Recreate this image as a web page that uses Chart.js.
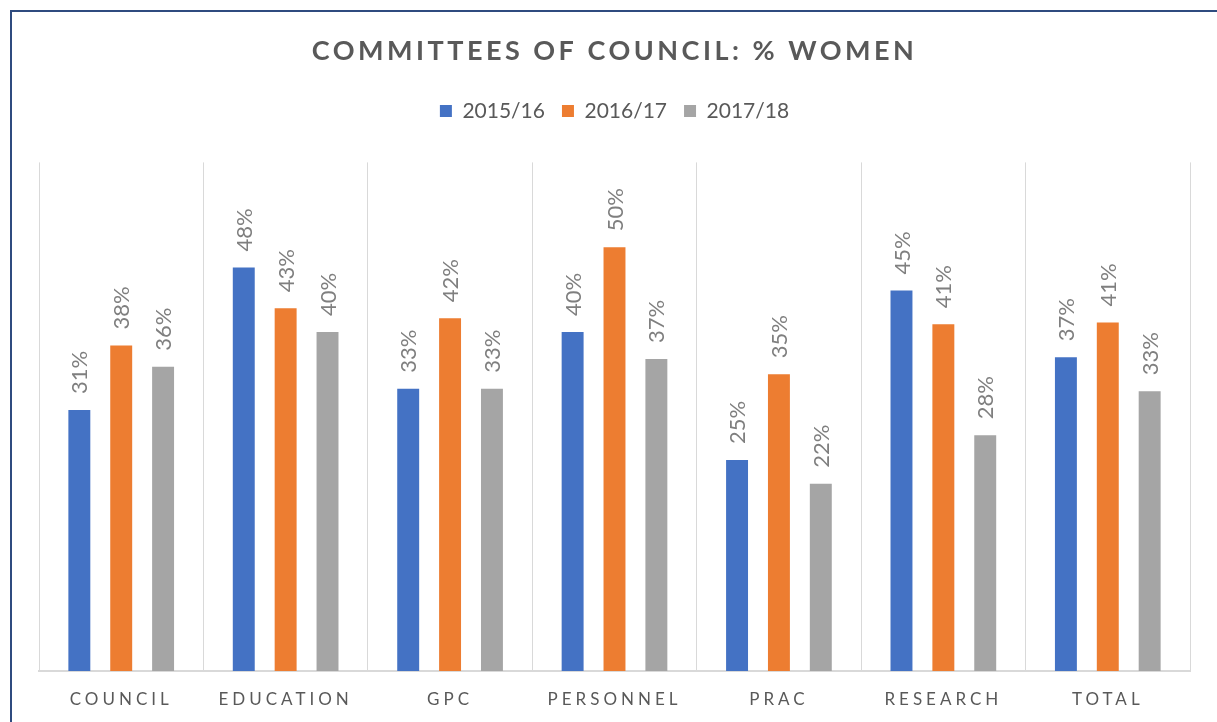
<!DOCTYPE html>
<html>
<head>
<meta charset="utf-8">
<script src="https://cdn.jsdelivr.net/npm/chart.js@4"></script>
<style>
  html, body { margin: 0; padding: 0; background: #fff; }
  #wrap { width: 1217px; height: 722px; }
</style>
</head>
<body>
<div id="wrap"><canvas id="myChart"></canvas></div>
<script>
const categories = ["COUNCIL", "EDUCATION", "GPC", "PERSONNEL", "PRAC", "RESEARCH", "TOTAL"];
const seriesNames = ["2015/16", "2016/17", "2017/18"];
const women1516 = [30.8, 47.6, 33.3, 40.0, 24.9, 44.9, 37.0];
const women1617 = [38.4, 42.8, 41.6, 50.0, 35.0, 40.9, 41.1];
const women1718 = [35.9, 40.0, 33.3, 36.8, 22.1, 27.8, 33.0];

const FONT = "Lato, 'Open Sans', sans-serif";

// spaced letters for title and category labels
const letterSpacing = {
  id: "letterSpacing",
  afterLayout(chart) {
    const xs = chart.scales.x;
    if (xs && !xs._spaced) {
      const orig = xs.drawLabels;
      xs.drawLabels = function (a) {
        const c = this.ctx;
        c.save();
        c.letterSpacing = "4px";
        orig.call(this, a);
        c.restore();
      };
      xs._spaced = true;
    }
    const tb = chart.titleBlock;
    if (tb && !tb._spaced) {
      const origT = tb.draw;
      tb.draw = function () {
        const c = this.ctx;
        c.save();
        c.letterSpacing = "3.5px";
        origT.call(this);
        c.restore();
      };
      tb._spaced = true;
    }
  },
};

// extra room under the legend
const legendGap = {
  id: "legendGap",
  beforeInit(chart) {
    const origFit = chart.legend.fit;
    chart.legend.fit = function () {
      origFit.call(this);
      this.height += 31;
    };
  },
};

const frame = {
  id: "frame",
  beforeDraw(chart) {
    const c = chart.ctx;
    c.save();
    c.strokeStyle = "#2F4B7F";
    c.lineWidth = 2;
    c.strokeRect(11, 11, chart.width + 20, chart.height + 20);
    c.restore();
  },
};

const barLabels = {
  id: "barLabels",
  afterDatasetsDraw(chart) {
    const c = chart.ctx;
    c.save();
    c.font = "22px " + FONT;
    c.fillStyle = "#7F7F7F";
    c.textAlign = "left";
    c.textBaseline = "middle";
    chart.data.datasets.forEach((ds, i) => {
      chart.getDatasetMeta(i).data.forEach((bar, j) => {
        c.save();
        c.translate(bar.x + 1, bar.y - 16);
        c.rotate(-Math.PI / 2);
        c.fillText(Math.round(ds.data[j]) + "%", 0, 0);
        c.restore();
      });
    });
    c.restore();
  },
};

const ctx1 = document.getElementById("myChart").getContext("2d");

const myChart = new Chart(ctx1, {
  type: "bar",
  data: {
    labels: categories,
    datasets: [
      { label: seriesNames[0], data: women1516, backgroundColor: "#4472C4" },
      { label: seriesNames[1], data: women1617, backgroundColor: "#ED7D31" },
      { label: seriesNames[2], data: women1718, backgroundColor: "#A5A5A5" },
    ],
  },
  options: {
    responsive: true,
    maintainAspectRatio: false,
    animation: false,
    datasets: {
      bar: { categoryPercentage: 0.764, barPercentage: 0.524 },
    },
    layout: { padding: { left: 39, right: 27, top: 35, bottom: 0 } },
    plugins: {
      title: {
        display: true,
        text: "COMMITTEES OF COUNCIL: % WOMEN",
        color: "#595959",
        font: { family: FONT, size: 27, weight: "bold" },
        padding: { top: 0, bottom: 16 },
      },
      legend: {
        display: true,
        labels: {
          color: "#595959",
          font: { family: FONT, size: 21 },
          boxWidth: 12,
          boxHeight: 12,
          padding: 17,
        },
      },
      tooltip: { enabled: false },
    },
    scales: {
      x: {
        grid: { display: true, offset: true, color: "#D9D9D9", drawTicks: false, lineWidth: 1 },
        border: { display: true, color: "#D9D9D9", width: 2 },
        ticks: { color: "#595959", font: { family: FONT, size: 17 }, padding: 18, maxRotation: 0 },
        afterFit(scale) {
          scale.height = 51;
        },
      },
      y: {
        display: false,
        min: 0,
        max: 60,
      },
    },
  },
  plugins: [letterSpacing, legendGap, frame, barLabels],
});
</script>
</body>
</html>
